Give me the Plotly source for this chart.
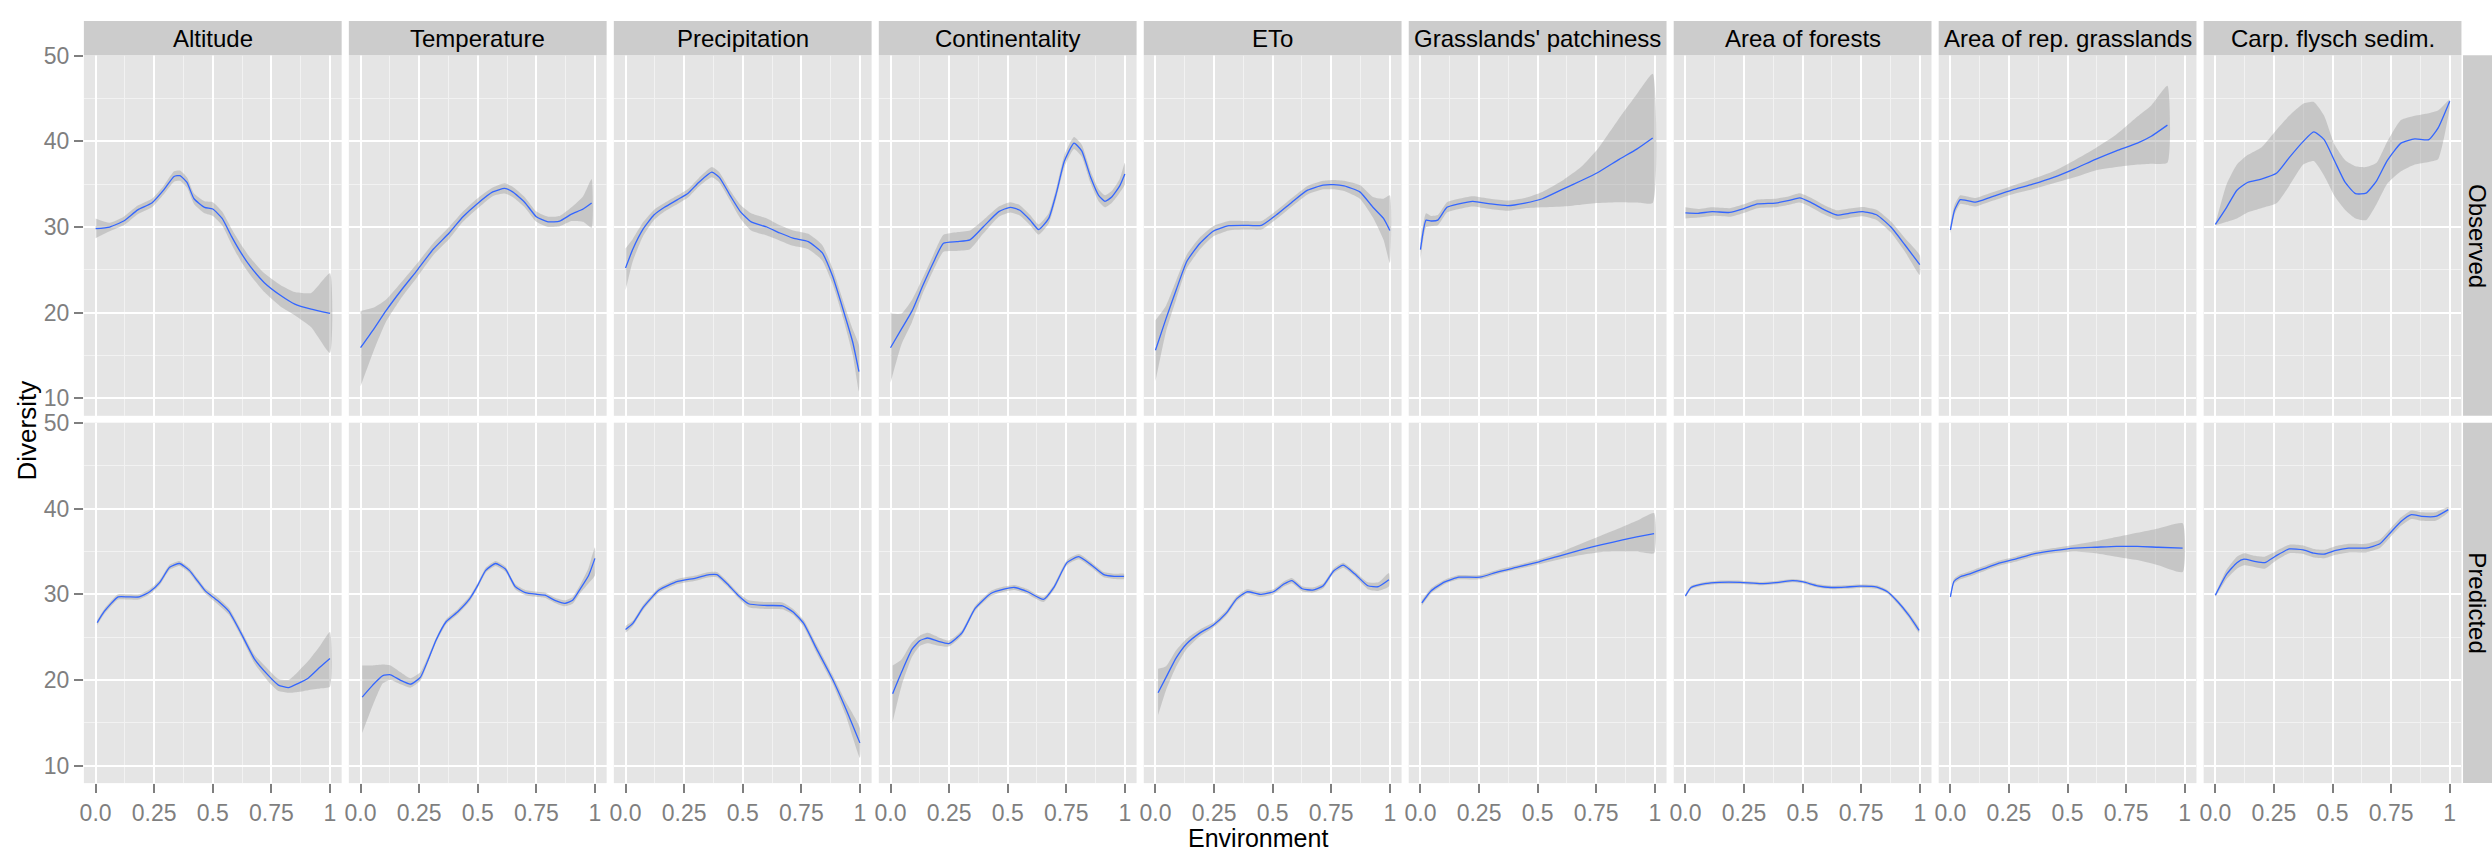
import plotly.graph_objects as go

W, H = 2492, 855

FACETS = ["Altitude", "Temperature", "Precipitation", "Continentality", "ETo",
          "Grasslands' patchiness", "Area of forests", "Area of rep. grasslands",
          "Carp. flysch sedim."]
ROWS = ["Observed", "Predicted"]
X_TICKS = [0, 0.25, 0.5, 0.75, 1]
X_TICK_TEXT = ["0.0", "0.25", "0.5", "0.75", "1"]
X_MINOR = [0.125, 0.375, 0.625, 0.875]
Y_TICKS = [10, 20, 30, 40, 50]
Y_MINOR = [15, 25, 35, 45]

# ---------------- Observed diversity (smooth fit + confidence band) ----------------
ALT_OBS_X = [0.0, 0.06, 0.12, 0.18, 0.24, 0.29, 0.335, 0.36, 0.39, 0.42, 0.465, 0.5, 0.54, 0.58, 0.62, 0.66, 0.72, 0.79, 0.85, 0.92, 1.0]
ALT_OBS_Y = [29.8, 30.0, 30.7, 32.0, 32.8, 34.3, 35.9, 36.0, 35.2, 33.3, 32.3, 32.1, 31.0, 28.9, 27.0, 25.4, 23.5, 22.0, 21.0, 20.4, 19.9]
ALT_OBS_LO = [28.7, 29.5, 30.2, 31.5, 32.3, 33.8, 35.3, 35.4, 34.6, 32.7, 31.6, 31.3, 30.2, 28.0, 26.0, 24.4, 22.4, 20.7, 19.7, 18.3, 15.3]
ALT_OBS_HI = [31.0, 30.5, 31.2, 32.5, 33.3, 34.8, 36.5, 36.6, 35.8, 33.9, 33.0, 32.9, 31.8, 29.8, 28.0, 26.4, 24.6, 23.2, 22.4, 22.3, 24.6]

TEMP_OBS_X = [0.0, 0.057, 0.108, 0.176, 0.243, 0.31, 0.378, 0.437, 0.497, 0.564, 0.615, 0.649, 0.7, 0.75, 0.8, 0.85, 0.9, 0.95, 0.986]
TEMP_OBS_Y = [15.9, 18.1, 20.2, 22.7, 25.0, 27.4, 29.3, 31.2, 32.7, 34.1, 34.5, 34.1, 32.9, 31.2, 30.6, 30.7, 31.5, 32.1, 32.8]
TEMP_OBS_LO = [11.4, 15.6, 18.9, 21.8, 24.2, 26.7, 28.6, 30.6, 32.1, 33.6, 33.9, 33.5, 32.3, 30.6, 30.0, 30.1, 30.7, 30.6, 29.9]
TEMP_OBS_HI = [20.2, 20.6, 21.5, 23.6, 25.8, 28.1, 30.0, 31.8, 33.3, 34.6, 35.1, 34.7, 33.5, 31.8, 31.2, 31.3, 32.3, 33.6, 35.6]

PREC_OBS_X = [0.0, 0.031, 0.076, 0.121, 0.166, 0.222, 0.267, 0.312, 0.368, 0.40, 0.446, 0.49, 0.536, 0.603, 0.659, 0.715, 0.78, 0.839, 0.883, 0.928, 0.969, 0.996]
PREC_OBS_Y = [25.2, 27.4, 29.8, 31.4, 32.3, 33.2, 33.95, 35.2, 36.4, 35.8, 33.7, 31.8, 30.6, 30.0, 29.3, 28.7, 28.3, 27.0, 24.3, 20.4, 16.6, 13.1]
PREC_OBS_LO = [22.6, 26.0, 29.0, 30.8, 31.8, 32.7, 33.45, 34.7, 35.8, 35.2, 33.1, 31.0, 29.6, 29.0, 28.4, 27.8, 27.4, 26.1, 23.4, 19.4, 15.1, 10.8]
PREC_OBS_HI = [27.5, 28.6, 30.6, 32.0, 32.8, 33.7, 34.45, 35.7, 37.0, 36.4, 34.3, 32.6, 31.6, 31.0, 30.2, 29.6, 29.2, 27.9, 25.2, 21.4, 18.1, 16.2]

CONT_OBS_X = [0.0, 0.047, 0.092, 0.137, 0.182, 0.226, 0.283, 0.339, 0.395, 0.462, 0.511, 0.552, 0.596, 0.632, 0.675, 0.709, 0.742, 0.783, 0.816, 0.854, 0.888, 0.915, 0.944, 0.978, 1.0]
CONT_OBS_Y = [15.9, 18.1, 20.2, 23.1, 25.8, 28.1, 28.3, 28.5, 30.0, 31.8, 32.3, 31.95, 30.8, 29.7, 31.0, 34.1, 37.7, 39.8, 38.9, 35.8, 33.7, 33.0, 33.5, 34.8, 36.2]
CONT_OBS_LO = [11.8, 16.3, 18.9, 22.2, 24.9, 27.1, 27.2, 27.4, 29.2, 31.2, 31.7, 31.35, 30.2, 29.1, 30.4, 33.5, 37.0, 39.1, 38.2, 35.1, 33.0, 32.3, 32.8, 34.0, 35.0]
CONT_OBS_HI = [19.9, 19.9, 21.5, 24.0, 26.7, 29.1, 29.4, 29.6, 30.8, 32.4, 32.9, 32.55, 31.4, 30.3, 31.6, 34.7, 38.4, 40.5, 39.6, 36.5, 34.4, 33.7, 34.2, 35.6, 37.5]

ETO_OBS_X = [0.0, 0.045, 0.089, 0.134, 0.19, 0.246, 0.313, 0.38, 0.452, 0.515, 0.582, 0.649, 0.716, 0.76, 0.805, 0.872, 0.928, 0.973, 1.0]
ETO_OBS_Y = [15.6, 19.3, 22.7, 26.0, 28.1, 29.5, 30.15, 30.2, 30.2, 31.4, 32.9, 34.3, 34.9, 34.95, 34.8, 34.1, 32.3, 31.0, 29.6]
ETO_OBS_LO = [12.0, 17.8, 21.6, 25.2, 27.4, 28.9, 29.6, 29.7, 29.7, 30.9, 32.4, 33.8, 34.4, 34.4, 34.2, 33.3, 31.1, 28.5, 25.8]
ETO_OBS_HI = [19.1, 20.8, 23.8, 26.8, 28.8, 30.1, 30.7, 30.7, 30.7, 31.9, 33.4, 34.8, 35.4, 35.5, 35.4, 34.9, 33.5, 33.3, 33.7]

PATCH_OBS_X = [0.0, 0.024, 0.045, 0.074, 0.113, 0.164, 0.223, 0.298, 0.372, 0.446, 0.52, 0.61, 0.685, 0.759, 0.848, 0.923, 0.991]
PATCH_OBS_Y = [27.35, 30.8, 30.7, 30.8, 32.3, 32.7, 33.0, 32.7, 32.5, 32.8, 33.3, 34.45, 35.4, 36.4, 37.9, 39.1, 40.4]
PATCH_OBS_LO = [26.2, 30.0, 30.1, 30.2, 31.7, 32.1, 32.4, 32.1, 31.9, 32.2, 32.3, 32.4, 32.6, 32.8, 32.9, 32.85, 32.8]
PATCH_OBS_HI = [28.5, 31.6, 31.3, 31.4, 32.9, 33.3, 33.6, 33.3, 33.1, 33.4, 34.1, 35.5, 37.0, 39.2, 42.7, 45.5, 47.9]

FOREST_OBS_X = [0.0, 0.054, 0.114, 0.189, 0.25, 0.308, 0.383, 0.443, 0.488, 0.533, 0.593, 0.647, 0.698, 0.757, 0.817, 0.877, 0.937, 1.0]
FOREST_OBS_Y = [31.65, 31.6, 31.8, 31.7, 32.15, 32.7, 32.8, 33.1, 33.4, 32.9, 32.0, 31.4, 31.6, 31.8, 31.4, 30.0, 27.9, 25.6]
FOREST_OBS_LO = [31.0, 31.1, 31.3, 31.2, 31.65, 32.2, 32.3, 32.6, 32.85, 32.35, 31.45, 30.85, 31.05, 31.25, 30.8, 29.35, 27.1, 24.4]
FOREST_OBS_HI = [32.3, 32.1, 32.3, 32.2, 32.65, 33.2, 33.3, 33.6, 33.95, 33.45, 32.55, 31.95, 32.15, 32.35, 32.0, 30.65, 28.7, 26.7]

REPGR_OBS_X = [0.0, 0.018, 0.042, 0.068, 0.107, 0.173, 0.262, 0.351, 0.44, 0.53, 0.619, 0.708, 0.798, 0.857, 0.926]
REPGR_OBS_Y = [29.65, 32.0, 33.2, 33.1, 32.9, 33.5, 34.3, 35.0, 35.8, 36.8, 37.9, 38.9, 39.8, 40.6, 41.9]
REPGR_OBS_LO = [29.2, 31.5, 32.7, 32.6, 32.4, 33.0, 33.8, 34.4, 35.1, 35.8, 36.6, 37.0, 37.3, 37.4, 37.5]
REPGR_OBS_HI = [30.4, 32.6, 33.7, 33.6, 33.4, 34.0, 34.8, 35.6, 36.5, 37.8, 39.2, 40.8, 42.9, 44.2, 46.5]

FLYSCH_OBS_X = [0.0, 0.048, 0.092, 0.137, 0.196, 0.262, 0.315, 0.375, 0.42, 0.464, 0.509, 0.554, 0.598, 0.643, 0.688, 0.732, 0.792, 0.851, 0.911, 0.95, 1.0]
FLYSCH_OBS_Y = [30.3, 32.3, 34.3, 35.2, 35.6, 36.3, 38.1, 40.0, 41.1, 40.2, 37.7, 35.2, 33.9, 33.95, 35.4, 37.7, 39.8, 40.3, 40.2, 41.55, 44.7]
FLYSCH_OBS_LO = [30.2, 30.6, 31.0, 31.7, 32.2, 32.8, 34.8, 37.3, 37.7, 36.0, 33.6, 32.0, 31.0, 30.8, 32.7, 35.0, 36.5, 37.3, 37.6, 37.9, 44.0]
FLYSCH_OBS_HI = [30.4, 35.0, 37.3, 38.4, 39.3, 41.4, 43.0, 44.4, 44.6, 43.0, 39.6, 37.8, 37.1, 37.0, 37.5, 39.9, 42.5, 43.0, 43.3, 43.6, 44.9]

# ---------------- Predicted diversity ----------------
ALT_PRED_X = [0.007, 0.037, 0.096, 0.139, 0.186, 0.231, 0.274, 0.316, 0.358, 0.4, 0.434, 0.468, 0.519, 0.569, 0.62, 0.679, 0.738, 0.78, 0.823, 0.865, 0.907, 0.958, 1.0]
ALT_PRED_Y = [26.7, 28.0, 29.7, 29.7, 29.7, 30.3, 31.4, 33.15, 33.6, 32.8, 31.6, 30.4, 29.3, 28.0, 25.5, 22.4, 20.5, 19.4, 19.1, 19.6, 20.2, 21.5, 22.5]
ALT_PRED_LO = [26.4, 27.7, 29.4, 29.4, 29.4, 30.0, 31.1, 32.85, 33.3, 32.5, 31.3, 30.1, 28.9, 27.6, 25.1, 21.9, 19.8, 18.7, 18.5, 18.6, 18.8, 19.0, 19.2]
ALT_PRED_HI = [27.0, 28.3, 30.0, 30.0, 30.0, 30.6, 31.7, 33.45, 33.9, 33.1, 31.9, 30.7, 29.7, 28.4, 25.9, 22.9, 21.2, 20.1, 20.0, 21.0, 22.2, 24.0, 25.6]

TEMP_PRED_X = [0.007, 0.052, 0.095, 0.128, 0.171, 0.213, 0.255, 0.289, 0.323, 0.365, 0.416, 0.466, 0.5, 0.534, 0.576, 0.618, 0.66, 0.703, 0.753, 0.787, 0.829, 0.872, 0.905, 0.939, 0.973, 1.0]
TEMP_PRED_Y = [18.0, 19.4, 20.5, 20.6, 19.95, 19.5, 20.3, 22.4, 24.7, 26.8, 28.0, 29.5, 31.05, 32.8, 33.6, 32.95, 30.9, 30.2, 30.0, 29.9, 29.3, 28.95, 29.3, 30.7, 32.2, 34.2]
TEMP_PRED_LO = [13.8, 17.0, 19.6, 20.0, 19.5, 19.1, 19.9, 22.1, 24.4, 26.5, 27.7, 29.2, 30.75, 32.5, 33.3, 32.65, 30.6, 29.9, 29.7, 29.6, 29.0, 28.6, 28.9, 30.2, 31.3, 32.2]
TEMP_PRED_HI = [21.7, 21.7, 21.8, 21.7, 20.9, 20.2, 20.9, 22.8, 25.0, 27.1, 28.3, 29.8, 31.35, 33.1, 33.9, 33.25, 31.2, 30.5, 30.3, 30.2, 29.6, 29.3, 29.7, 31.2, 33.1, 35.5]

PREC_PRED_X = [0.0, 0.031, 0.076, 0.143, 0.222, 0.3, 0.357, 0.39, 0.435, 0.48, 0.525, 0.592, 0.67, 0.715, 0.76, 0.816, 0.883, 0.939, 1.0]
PREC_PRED_Y = [25.9, 26.6, 28.5, 30.5, 31.5, 31.9, 32.3, 32.3, 31.2, 29.9, 28.9, 28.7, 28.65, 27.95, 26.6, 23.6, 20.1, 16.7, 12.65]
PREC_PRED_LO = [25.5, 26.3, 28.2, 30.2, 31.2, 31.6, 32.0, 32.0, 30.9, 29.6, 28.5, 28.3, 28.25, 27.6, 26.2, 23.1, 19.6, 15.9, 10.9]
PREC_PRED_HI = [26.3, 26.9, 28.8, 30.8, 31.8, 32.2, 32.6, 32.6, 31.5, 30.2, 29.3, 29.1, 29.05, 28.3, 27.0, 24.1, 20.6, 17.5, 14.4]

CONT_PRED_X = [0.009, 0.047, 0.092, 0.126, 0.159, 0.204, 0.249, 0.305, 0.361, 0.428, 0.484, 0.529, 0.585, 0.653, 0.697, 0.753, 0.803, 0.854, 0.91, 0.955, 0.996]
CONT_PRED_Y = [18.4, 20.9, 23.6, 24.6, 24.9, 24.5, 24.25, 25.5, 28.35, 30.1, 30.6, 30.8, 30.3, 29.4, 30.8, 33.7, 34.4, 33.5, 32.3, 32.1, 32.1]
CONT_PRED_LO = [15.1, 19.3, 22.7, 24.0, 24.3, 24.0, 23.9, 25.2, 28.05, 29.8, 30.3, 30.5, 30.0, 29.1, 30.5, 33.4, 34.1, 33.2, 32.0, 31.8, 31.8]
CONT_PRED_HI = [21.7, 22.4, 24.4, 25.2, 25.5, 25.0, 24.6, 25.8, 28.65, 30.4, 30.9, 31.1, 30.6, 29.7, 31.1, 34.0, 34.7, 33.8, 32.6, 32.4, 32.4]

ETO_PRED_X = [0.011, 0.045, 0.089, 0.134, 0.19, 0.246, 0.302, 0.347, 0.391, 0.447, 0.503, 0.548, 0.582, 0.626, 0.671, 0.716, 0.761, 0.801, 0.85, 0.906, 0.951, 0.996]
ETO_PRED_Y = [18.5, 20.3, 22.6, 24.25, 25.5, 26.4, 27.8, 29.5, 30.3, 30.0, 30.3, 31.2, 31.6, 30.65, 30.5, 31.0, 32.75, 33.4, 32.4, 31.0, 30.9, 31.7]
ETO_PRED_LO = [15.9, 18.8, 21.6, 23.65, 25.1, 26.1, 27.5, 29.2, 30.0, 29.7, 30.0, 30.9, 31.3, 30.35, 30.2, 30.7, 32.45, 33.1, 32.1, 30.6, 30.4, 30.9]
ETO_PRED_HI = [21.3, 21.6, 23.5, 24.85, 25.9, 26.7, 28.1, 29.8, 30.6, 30.3, 30.6, 31.5, 31.9, 30.95, 30.8, 31.3, 33.05, 33.7, 32.7, 31.4, 31.4, 32.5]

PATCH_PRED_X = [0.006, 0.045, 0.104, 0.164, 0.253, 0.327, 0.417, 0.506, 0.595, 0.685, 0.774, 0.863, 0.923, 0.997]
PATCH_PRED_Y = [29.0, 30.4, 31.45, 32.0, 32.0, 32.6, 33.2, 33.8, 34.5, 35.2, 35.8, 36.35, 36.7, 37.1]
PATCH_PRED_LO = [28.7, 30.1, 31.2, 31.75, 31.75, 32.35, 32.95, 33.5, 34.1, 34.6, 34.95, 35.0, 35.0, 34.8]
PATCH_PRED_HI = [29.3, 30.7, 31.7, 32.25, 32.25, 32.85, 33.45, 34.1, 34.9, 35.9, 36.9, 37.9, 38.6, 39.5]

FOREST_PRED_X = [0.0, 0.024, 0.084, 0.144, 0.234, 0.323, 0.398, 0.458, 0.503, 0.563, 0.623, 0.683, 0.743, 0.817, 0.862, 0.907, 0.952, 0.997]
FOREST_PRED_Y = [29.8, 30.8, 31.25, 31.4, 31.4, 31.25, 31.4, 31.6, 31.45, 31.0, 30.8, 30.85, 30.95, 30.85, 30.3, 29.1, 27.6, 25.8]
FOREST_PRED_LO = [29.6, 30.6, 31.05, 31.2, 31.2, 31.05, 31.2, 31.4, 31.25, 30.8, 30.6, 30.65, 30.75, 30.65, 30.1, 28.85, 27.3, 25.5]
FOREST_PRED_HI = [30.0, 31.0, 31.45, 31.6, 31.6, 31.45, 31.6, 31.8, 31.65, 31.2, 31.0, 31.05, 31.15, 31.05, 30.5, 29.35, 27.9, 26.1]

REPGR_PRED_X = [0.0, 0.015, 0.039, 0.083, 0.143, 0.202, 0.277, 0.351, 0.44, 0.53, 0.619, 0.708, 0.798, 0.887, 0.991]
REPGR_PRED_Y = [29.7, 31.5, 32.0, 32.4, 33.0, 33.6, 34.1, 34.7, 35.1, 35.4, 35.5, 35.6, 35.6, 35.5, 35.4]
REPGR_PRED_LO = [29.4, 31.2, 31.7, 32.1, 32.7, 33.3, 33.8, 34.4, 34.8, 35.0, 34.8, 34.4, 34.0, 33.4, 32.6]
REPGR_PRED_HI = [30.0, 31.8, 32.3, 32.7, 33.3, 33.9, 34.4, 35.0, 35.4, 35.8, 36.2, 36.7, 37.2, 37.7, 38.3]

FLYSCH_PRED_X = [0.0, 0.048, 0.092, 0.122, 0.167, 0.211, 0.256, 0.315, 0.375, 0.42, 0.464, 0.509, 0.568, 0.643, 0.702, 0.747, 0.792, 0.836, 0.881, 0.94, 0.994]
FLYSCH_PRED_Y = [29.9, 32.35, 33.7, 34.1, 33.85, 33.7, 34.45, 35.3, 35.2, 34.8, 34.7, 35.1, 35.4, 35.4, 35.9, 37.2, 38.5, 39.3, 39.1, 39.1, 39.9]
FLYSCH_PRED_LO = [29.7, 31.8, 33.0, 33.4, 33.2, 33.0, 33.9, 34.8, 34.7, 34.3, 34.2, 34.6, 34.9, 34.9, 35.4, 36.7, 38.0, 38.8, 38.6, 38.6, 39.6]
FLYSCH_PRED_HI = [30.1, 32.9, 34.4, 34.8, 34.5, 34.4, 35.0, 35.8, 35.7, 35.3, 35.2, 35.6, 35.9, 35.9, 36.4, 37.7, 39.0, 39.8, 39.6, 39.6, 40.2]

SERIES = [
    [
        (ALT_OBS_X, ALT_OBS_Y, ALT_OBS_LO, ALT_OBS_HI),
        (TEMP_OBS_X, TEMP_OBS_Y, TEMP_OBS_LO, TEMP_OBS_HI),
        (PREC_OBS_X, PREC_OBS_Y, PREC_OBS_LO, PREC_OBS_HI),
        (CONT_OBS_X, CONT_OBS_Y, CONT_OBS_LO, CONT_OBS_HI),
        (ETO_OBS_X, ETO_OBS_Y, ETO_OBS_LO, ETO_OBS_HI),
        (PATCH_OBS_X, PATCH_OBS_Y, PATCH_OBS_LO, PATCH_OBS_HI),
        (FOREST_OBS_X, FOREST_OBS_Y, FOREST_OBS_LO, FOREST_OBS_HI),
        (REPGR_OBS_X, REPGR_OBS_Y, REPGR_OBS_LO, REPGR_OBS_HI),
        (FLYSCH_OBS_X, FLYSCH_OBS_Y, FLYSCH_OBS_LO, FLYSCH_OBS_HI),
    ],
    [
        (ALT_PRED_X, ALT_PRED_Y, ALT_PRED_LO, ALT_PRED_HI),
        (TEMP_PRED_X, TEMP_PRED_Y, TEMP_PRED_LO, TEMP_PRED_HI),
        (PREC_PRED_X, PREC_PRED_Y, PREC_PRED_LO, PREC_PRED_HI),
        (CONT_PRED_X, CONT_PRED_Y, CONT_PRED_LO, CONT_PRED_HI),
        (ETO_PRED_X, ETO_PRED_Y, ETO_PRED_LO, ETO_PRED_HI),
        (PATCH_PRED_X, PATCH_PRED_Y, PATCH_PRED_LO, PATCH_PRED_HI),
        (FOREST_PRED_X, FOREST_PRED_Y, FOREST_PRED_LO, FOREST_PRED_HI),
        (REPGR_PRED_X, REPGR_PRED_Y, REPGR_PRED_LO, REPGR_PRED_HI),
        (FLYSCH_PRED_X, FLYSCH_PRED_Y, FLYSCH_PRED_LO, FLYSCH_PRED_HI),
    ],
]

# ---------------- panel geometry (pixels) ----------------
PANEL_LEFT = 80.0
PANEL_W = 258.2
PANEL_GAP = 7.2
ROW_TOP = [43.0, 416.0]
ROW_H = 366.0
STRIP_TOP = 8.0
RIGHT_STRIP = (2463.0, 2492.0)

PANEL_BG = "#E5E5E5"
STRIP_BG = "#CCCCCC"
MINOR_GRID = "#F2F2F2"
AXIS_GREY = "#7F7F7F"
LINE_BLUE = "#3366FF"
BAND_FILL = "rgba(153,153,153,0.4)"
FONT = "Liberation Sans, Arial, sans-serif"


def px_x(v):
    return v / W


def px_y(v):
    return 1 - v / H


fig = go.Figure()
layout = dict(
    width=W, height=H,
    margin=dict(l=0, r=0, t=0, b=0),
    paper_bgcolor="white",
    plot_bgcolor=PANEL_BG,
    showlegend=False,
    font=dict(family=FONT, color="black"),
)
shapes = []
annotations = []

for r in range(2):
    top = ROW_TOP[r]
    bottom = top + ROW_H
    for c in range(9):
        k = r * 9 + c + 1
        sfx = "" if k == 1 else str(k)
        left = PANEL_LEFT + c * (PANEL_W + PANEL_GAP)
        right = left + PANEL_W

        xa = dict(
            domain=[px_x(left), px_x(right)],
            anchor="y" + sfx,
            range=[-0.05, 1.05],
            tickvals=X_TICKS, ticktext=X_TICK_TEXT,
            showgrid=True, gridcolor="white", gridwidth=1.6,
            zeroline=False, showline=False,
            minor=dict(tickvals=X_MINOR, showgrid=True, gridcolor=MINOR_GRID,
                       gridwidth=1, ticks=""),
        )
        if r == 1:
            xa.update(ticks="outside", ticklen=9, tickwidth=1.5, tickcolor=AXIS_GREY,
                      showticklabels=True,
                      tickfont=dict(size=23, color=AXIS_GREY, family=FONT))
        else:
            xa.update(ticks="", showticklabels=False)

        ya = dict(
            domain=[px_y(bottom), px_y(top)],
            anchor="x" + sfx,
            range=[7.95, 50.05],
            tickvals=Y_TICKS,
            showgrid=True, gridcolor="white", gridwidth=1.6,
            zeroline=False, showline=False,
            minor=dict(tickvals=Y_MINOR, showgrid=True, gridcolor=MINOR_GRID,
                       gridwidth=1, ticks=""),
        )
        if c == 0:
            ya.update(ticks="outside", ticklen=9, tickwidth=1.5, tickcolor=AXIS_GREY,
                      showticklabels=True,
                      tickfont=dict(size=23, color=AXIS_GREY, family=FONT))
        else:
            ya.update(ticks="", showticklabels=False)

        layout["xaxis" + sfx] = xa
        layout["yaxis" + sfx] = ya

        xs, ys, lo, hi = SERIES[r][c]
        fig.add_trace(go.Scatter(
            x=list(xs) + list(xs)[::-1],
            y=list(hi) + list(lo)[::-1],
            mode="lines", fill="toself", fillcolor=BAND_FILL,
            line=dict(width=0, shape="spline", smoothing=0.5),
            hoverinfo="skip", xaxis="x" + sfx, yaxis="y" + sfx,
        ))
        fig.add_trace(go.Scatter(
            x=xs, y=ys, mode="lines",
            line=dict(color=LINE_BLUE, width=1.3, shape="spline", smoothing=0.5),
            xaxis="x" + sfx, yaxis="y" + sfx,
        ))

        if r == 0:
            shapes.append(dict(type="rect", xref="paper", yref="paper",
                               x0=px_x(left), x1=px_x(right),
                               y0=px_y(top), y1=px_y(STRIP_TOP),
                               fillcolor=STRIP_BG, line=dict(width=0), layer="above"))
            annotations.append(dict(text=FACETS[c], xref="paper", yref="paper",
                                    x=px_x((left + right) / 2), y=px_y((STRIP_TOP + top) / 2),
                                    showarrow=False, xanchor="center", yanchor="middle",
                                    font=dict(size=24, color="black", family=FONT)))

    # row strip on the right
    shapes.append(dict(type="rect", xref="paper", yref="paper",
                       x0=px_x(RIGHT_STRIP[0]), x1=px_x(RIGHT_STRIP[1]),
                       y0=px_y(bottom), y1=px_y(top),
                       fillcolor=STRIP_BG, line=dict(width=0), layer="above"))
    annotations.append(dict(text=ROWS[r], xref="paper", yref="paper",
                            x=px_x((RIGHT_STRIP[0] + RIGHT_STRIP[1]) / 2),
                            y=px_y((top + bottom) / 2),
                            showarrow=False, textangle=90,
                            xanchor="center", yanchor="middle",
                            font=dict(size=24, color="black", family=FONT)))

# axis titles
annotations.append(dict(text="Diversity", xref="paper", yref="paper",
                        x=px_x(23), y=px_y(424), showarrow=False, textangle=-90,
                        xanchor="center", yanchor="middle",
                        font=dict(size=26, color="black", family=FONT)))
annotations.append(dict(text="Environment", xref="paper", yref="paper",
                        x=px_x(1256), y=px_y(838), showarrow=False,
                        xanchor="center", yanchor="middle",
                        font=dict(size=25, color="black", family=FONT)))

layout["shapes"] = shapes
layout["annotations"] = annotations
fig.update_layout(**layout)

fig.write_html("out.html")
